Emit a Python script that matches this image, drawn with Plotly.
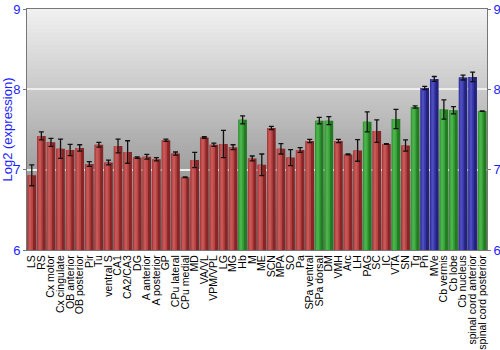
import plotly.graph_objects as go

categories = ["LS", "RS", "Cx motor", "Cx cingulate", "OB anterior", "OB posterior", "Pir", "Tu",
              "ventral S", "CA1", "CA2/CA3", "DG", "A anterior", "A posterior", "GP", "CPu lateral",
              "CPu medial", "MD", "VA/VL", "VPM/VPL", "LG", "MG", "Hb", "M", "ME", "SCN", "MPA",
              "SO", "Pa", "SPa ventral", "SPa dorsal", "DM", "VMH", "Arc", "LH", "PAG", "SC", "IC",
              "VTA", "SN", "Tg", "Pn", "MVe", "Cb vermis", "Cb lobe", "Cb nucleus",
              "spinal cord anterior", "spinal cord posterior"]

values = [6.93, 7.42, 7.34, 7.26, 7.245, 7.27, 7.07, 7.31,
          7.09, 7.295, 7.22, 7.15, 7.16, 7.13, 7.366, 7.20,
          6.905, 7.12, 7.40, 7.31, 7.32, 7.28, 7.62, 7.14, 7.06, 7.52, 7.26,
          7.15, 7.245, 7.357, 7.61, 7.61, 7.357, 7.19, 7.24, 7.595, 7.48, 7.32,
          7.63, 7.30, 7.78, 8.017, 8.13, 7.75, 7.74, 8.146,
          8.155, 7.73]

errors = [0.13, 0.05, 0.05, 0.12, 0.07, 0.04, 0.03, 0.03,
          0.03, 0.085, 0.14, 0.01, 0.03, 0.02, 0.015, 0.02,
          0.005, 0.095, 0.01, 0.02, 0.17, 0.03, 0.05, 0.03, 0.135, 0.02, 0.065,
          0.10, 0.03, 0.02, 0.04, 0.05, 0.02, 0.005, 0.135, 0.125, 0.14, 0.005,
          0.12, 0.07, 0.015, 0.02, 0.03, 0.12, 0.045, 0.03,
          0.06, 0.003]

groups = ["r"] * 22 + ["g"] + ["r"] * 7 + ["g", "g", "r", "r", "r", "g", "r", "r", "g", "r", "g",
                                          "b", "b", "g", "g", "b", "b", "g"]

dark = {"r": "#862626", "g": "#237a23", "b": "#23237f"}
mid = {"r": "#b84343", "g": "#37a037", "b": "#3838ab"}
light = {"r": "#c65858", "g": "#4cb34c", "b": "#4d4dbd"}

fig = go.Figure()
fig.add_trace(go.Bar(x=categories, y=values, base=0, width=0.9,
                     marker=dict(color=[dark[g] for g in groups], line=dict(width=0)),
                     hoverinfo="skip", showlegend=False))
fig.add_trace(go.Bar(x=categories, y=values, offset=-0.42, width=0.55,
                     marker=dict(color=[mid[g] for g in groups], line=dict(width=0)),
                     hoverinfo="skip", showlegend=False))
fig.add_trace(go.Bar(x=categories, y=values, offset=-0.3, width=0.25,
                     marker=dict(color=[light[g] for g in groups], line=dict(width=0)),
                     hoverinfo="skip", showlegend=False))
fig.add_trace(go.Scatter(x=categories, y=values, mode="markers",
                         marker=dict(size=1, color="rgba(0,0,0,0)"),
                         error_y=dict(type="data", array=errors, color="#111111",
                                      thickness=1.3, width=2.5),
                         showlegend=False, hoverinfo="skip"))
# invisible trace for right axis
fig.add_trace(go.Scatter(x=[categories[0]], y=[6], yaxis="y2", mode="markers",
                         marker=dict(size=1, color="rgba(0,0,0,0)"),
                         showlegend=False, hoverinfo="skip"))

# background gradient (overlapping strips to avoid seams)
shapes = []
n = 60
for i in range(n):
    y0 = 6 + 3 * i / n
    y1 = min(9, 6 + 3 * (i + 1.6) / n)
    t = (i + 0.5) / n
    c = int(120 + (242 - 120) * t)
    shapes.append(dict(type="rect", xref="paper", yref="y", x0=0, x1=1, y0=y0, y1=y1,
                       fillcolor=f"rgb({c},{c},{c})", line=dict(width=0), layer="below"))

blue = "#1e1eff"
fig.update_layout(
    width=500, height=350,
    margin=dict(l=27, r=13, t=9, b=100, autoexpand=False),
    paper_bgcolor="white", plot_bgcolor="rgba(0,0,0,0)",
    barmode="overlay", bargap=0.1,
    shapes=shapes,
    font=dict(family="Arial, Liberation Sans, sans-serif"),
    xaxis=dict(tickangle=-90, tickfont=dict(size=10.5, color="black"), showgrid=False,
               tickmode="array", tickvals=categories, ticktext=categories,
               ticks="", showline=True, linecolor="#777777", mirror=True, automargin=False,
               range=[-0.5, len(categories) - 0.5], fixedrange=True, ticklen=0),
    yaxis=dict(range=[6, 9], tickvals=[6, 7, 8, 9], tickfont=dict(size=13, color=blue),
               title=dict(text="Log2 (expression)", font=dict(size=13, color=blue), standoff=3),
               showgrid=True, gridcolor="#eeeeee", gridwidth=2, zeroline=False, automargin=False,
               showline=True, linecolor="#777777", ticks="outside", ticklen=3,
               tickcolor="#777777", mirror=False),
    yaxis2=dict(range=[6, 9], tickvals=[6, 7, 8, 9], tickfont=dict(size=13, color=blue),
                overlaying="y", side="right", showgrid=False, zeroline=False, automargin=False,
                showline=True, linecolor="#777777", ticks="outside", ticklen=3,
                tickcolor="#777777"),
)

fig.write_html("out.html")
